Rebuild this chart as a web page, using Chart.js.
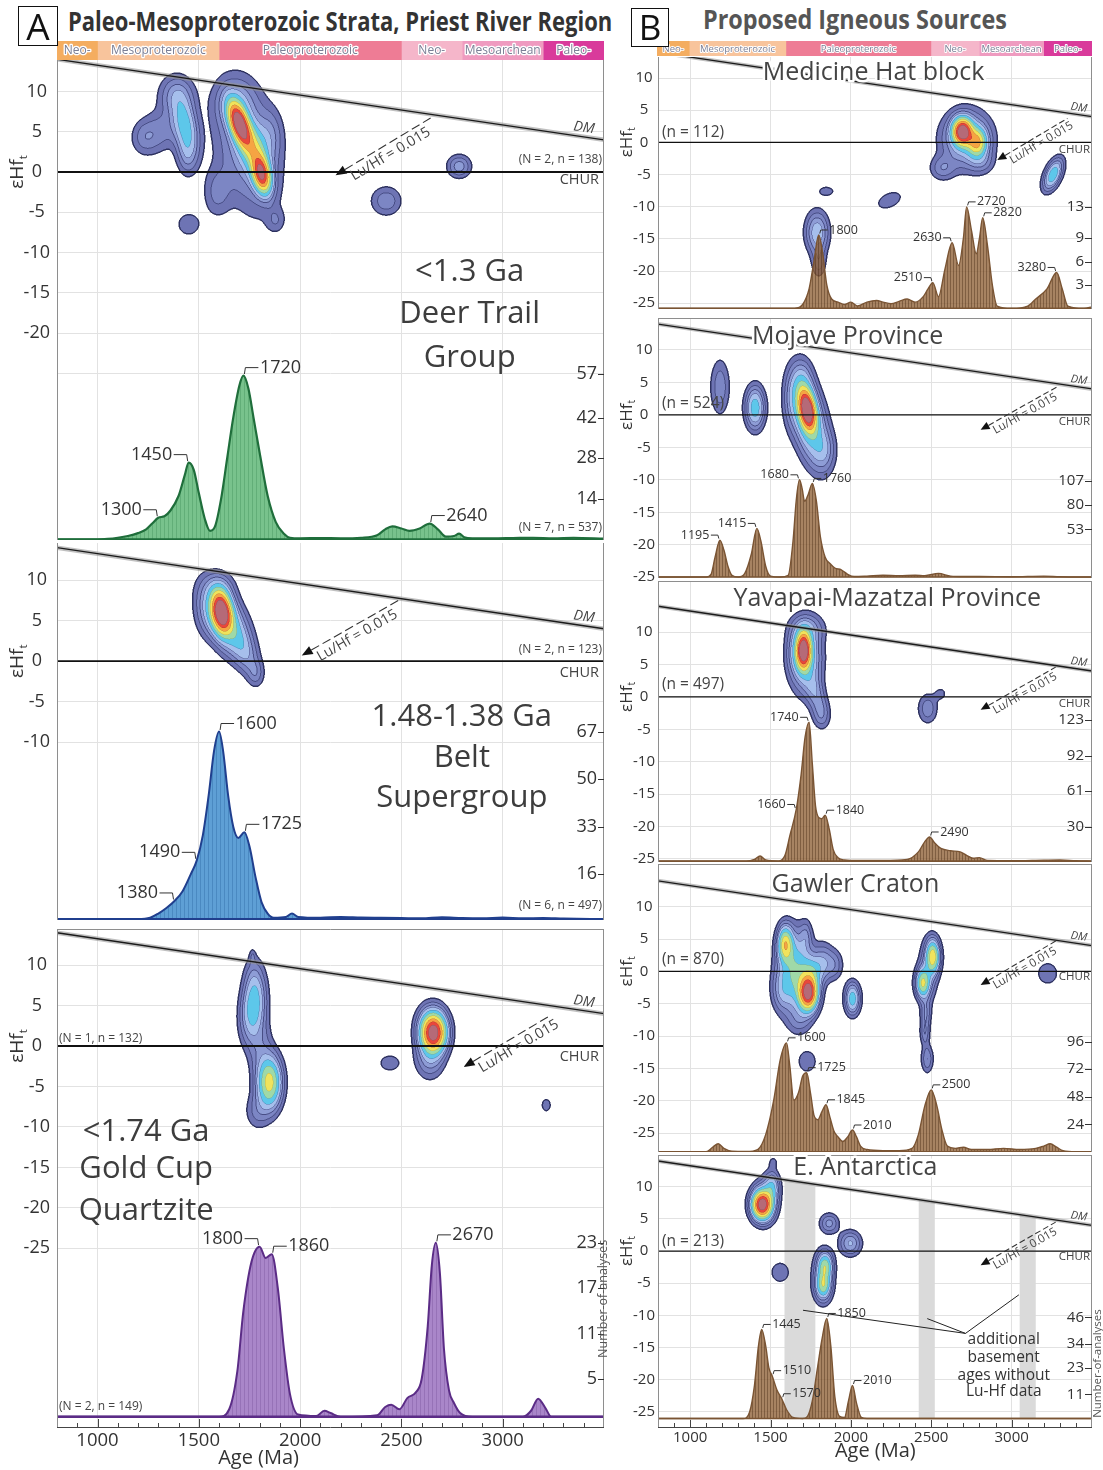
<!DOCTYPE html>
<html><head><meta charset="utf-8"><title>Hf isotope / detrital zircon KDE figure</title>
<script src="https://cdn.jsdelivr.net/npm/chart.js@4.4.1/dist/chart.umd.min.js"></script>
<style>
html,body{margin:0;padding:0;background:#fff;}
#wrap{position:relative;width:1103px;height:1470px;overflow:hidden;background:#fff;font-family:'Open Sans',sans-serif;}
#wrap canvas{position:absolute;}
.lbox{position:absolute;box-sizing:border-box;border:1.6px solid #111;background:#fff;color:#111;text-align:center;font-weight:400;z-index:3;}
.hdr{position:absolute;white-space:nowrap;font-weight:700;transform-origin:0 50%;line-height:1;}
</style></head><body>
<div id="wrap">
 <div class="lbox" style="left:18px;top:6px;width:40px;height:40px;font-size:37px;line-height:37px;">A</div>
 <div class="hdr" id="hA" style="left:68px;top:8px;font-size:26px;color:#333;" data-w="544">Paleo-Mesoproterozoic Strata, Priest River Region</div>
 <div class="lbox" style="left:631px;top:8px;width:38px;height:39px;font-size:35px;line-height:36px;">B</div>
 <div class="hdr" id="hB" style="left:703px;top:6px;font-size:26px;color:#555;" data-w="304">Proposed Igneous Sources</div>
</div>
<script>
// ===================== DATA =====================
const AGE_MIN = 800, AGE_MAX = 3500;
const ageTicks = [1000, 1500, 2000, 2500, 3000];
const minorAgeTicks = [900,1000,1100,1200,1300,1400,1500,1600,1700,1800,1900,2000,2100,2200,2300,2400,2500,2600,2700,2800,2900,3000,3100,3200,3300,3400];

const eraLabels = ['Neo-', 'Mesoproterozoic', 'Paleoproterozoic', 'Neo-', 'Mesoarchean', 'Paleo-'];
const eraStart  = [800, 1000, 1600, 2500, 2800, 3200];
const eraEnd    = [1000, 1600, 2500, 2800, 3200, 3500];
const eraColors = ['#f4ad60', '#f8c49c', '#ee7c95', '#f5b6ca', '#ef9bc0', '#d93a9b'];

const dmAge = [800, 3500];
const dmEps = [14, 4];
const churAge = [800, 3500];
const churEps = [0, 0];

// ---- A1 Deer Trail Group ----
const deerTitle = ['<1.3 Ga', 'Deer Trail', 'Group'];
const deerHfN = '(N = 2, n = 138)';
const deerKdeN = '(N = 7, n = 537)';
const deerCountTicks = [14, 28, 42, 57];
const deerPeaks = [1300, 1450, 1720, 2640];
const deerAges   = [800,1000,1050,1100,1150,1200,1240,1270,1300,1330,1360,1400,1430,1450,1475,1500,1530,1555,1580,1610,1640,1670,1700,1720,1745,1770,1800,1840,1880,1920,1950,2000,2100,2200,2300,2380,2420,2455,2500,2540,2590,2640,2680,2720,2760,2785,2810,2850,2950,3050,3150,3250,3350,3500];
const deerCounts = [0,0,0.2,0.6,1.2,2.2,3.5,5.5,7.5,8.0,10,15,22,26.5,24,16,7,3,4.5,14,28,42,53,56.5,52,42,30,15,6,2,0.6,0.4,0.5,0.4,0.6,1.5,3.5,4.5,3.8,3.0,3.8,5.5,3.5,1.0,1.2,2.0,0.8,0.4,0.4,0.5,0.6,0.4,0.6,0.3];
// blobs: [age, epsHf, sdAge, sdEps, weight, rho]
const deerBlobs = [
 [1430,6.0,40,2.2,0.25,-0.3],[1390,9.5,55,1.6,0.12,0],[1445,2.5,35,1.8,0.12,0],[1300,5.0,70,1.8,0.08,0.2],[1230,4.3,40,1.3,0.05,0],
 [1700,6.0,35,1.7,1.0,-0.5],[1810,-0.3,30,1.5,0.85,-0.3],[1765,3.0,45,2.0,0.35,-0.4],[1740,3.0,100,5.0,0.14,-0.3],
 [1680,8.5,60,1.8,0.12,0],[1590,-2.5,45,2.0,0.07,0],[1880,-6.0,30,1.0,0.05,0],[1850,4.5,40,2.0,0.08,0],
 [1450,-6.5,48,1.2,0.05,0],[2425,-3.6,50,1.2,0.09,0],[2785,0.7,37,0.9,0.13,0]
];

// ---- A2 Belt Supergroup ----
const beltTitle = ['1.48-1.38 Ga', 'Belt', 'Supergroup'];
const beltHfN = '(N = 2, n = 123)';
const beltKdeN = '(N = 6, n = 497)';
const beltCountTicks = [16, 33, 50, 67];
const beltPeaks = [1380, 1490, 1600, 1725];
const beltAges   = [800,1200,1260,1300,1340,1380,1420,1460,1490,1520,1550,1575,1600,1620,1645,1670,1695,1725,1750,1780,1810,1840,1870,1930,1960,1990,2100,2200,2300,2400,2500,2600,2700,2800,2900,3000,3100,3200,3300,3500];
const beltCounts = [0,0,0.5,2,4,6.5,10,16,21,30,45,60,67,60,44,33,29,31,26,15,6,2,0.5,0.8,2,0.8,0.5,0.8,0.6,0.5,0.4,0.3,0.7,0.4,0.3,0.6,0.3,0.4,0.2,0];
const beltBlobs = [
 [1612,6.1,32,1.6,1.0,-0.2],[1630,5.0,70,2.6,0.3,-0.5],[1720,1.5,50,2.2,0.12,-0.6],
 [1780,-1.5,25,1.0,0.06,0],[1600,9.0,50,1.3,0.08,0],[1540,6.0,40,2.0,0.06,0]
];

// ---- A3 Gold Cup Quartzite ----
const goldTitle = ['<1.74 Ga', 'Gold Cup', 'Quartzite'];
const goldHfN = '(N = 1, n = 132)';
const goldKdeN = '(N = 2, n = 149)';
const goldCountTicks = [5, 11, 17, 23];
const goldPeaks = [1800, 1860, 2670];
const goldAges   = [800,1600,1650,1690,1720,1760,1800,1830,1860,1890,1920,1950,1990,2080,2120,2150,2200,2380,2420,2450,2490,2530,2570,2600,2630,2650,2670,2690,2710,2735,2760,2790,2850,3100,3140,3175,3210,3240,3500];
const goldCounts = [0,0,1,6,14,20.5,22.5,21.0,21.5,17,9,3,0.3,0.1,0.8,0.5,0,0.2,1.3,1.6,1.0,2.5,3.2,5,12,20,23,19,9,3.5,1.8,0.5,0,0,0.8,2.4,1.2,0,0];
const goldBlobs = [
 [1768,4.7,38,2.4,0.28,0.2],[1848,-4.5,38,2.0,0.5,0],[1800,0,40,2.5,0.08,0],[1770,8,32,2,0.08,0],
 [1790,-8,40,1.5,0.07,0],[1765,11,10,0.6,0.05,0],
 [2658,1.6,40,1.5,1.0,0],[2640,-1.5,45,1.6,0.12,0],[2650,3.0,45,1.5,0.10,0],
 [2443,-2.1,44,0.86,0.05,0],[3215,-7.3,20,0.7,0.05,0]
];

// ---- B1 Medicine Hat block ----
const medhatTitle = 'Medicine Hat block';
const medhatN = '(n = 112)';
const medhatCountTicks = [3, 6, 9, 13];
const medhatPeaks = [1800, 2510, 2630, 2720, 2820, 3280];
const medhatAges   = [800,1650,1700,1740,1770,1800,1825,1850,1880,1920,1960,2000,2040,2100,2160,2200,2250,2300,2350,2400,2450,2480,2510,2545,2585,2630,2670,2700,2720,2750,2780,2800,2820,2850,2880,2910,3000,3100,3150,3220,3280,3315,3350,3450,3500];
const medhatCounts = [0,0,0.5,2.5,6,9.4,7,3,1.2,0.8,0.5,0.8,0.3,0.8,1,0.8,0.6,0.9,1.2,0.8,1.5,2.5,3.3,1.5,5,8.4,5.5,9,13,10,7,9,11.6,8,3,0.3,0,0.3,1.2,2.5,4.6,2.5,0.3,0,0.2];
const medhatBlobs = [
 [2694,1.7,38,1.3,1.0,0],[2785,0,38,1.4,0.5,0],[2720,0.5,95,2.7,0.22,0],[2570,-4.0,50,1.2,0.09,0],[2810,-3.0,50,1.2,0.07,0],
 [3258,-5.0,38,1.5,0.3,0.5],[1847,-7.6,45,0.7,0.045,0],[2240,-9.0,67,1.2,0.05,0.4],
 [1790,-14.0,45,2.0,0.2,0],[1800,-18.5,30,1.6,0.08,0]
];

// ---- B2 Mojave Province ----
const mojaveTitle = 'Mojave Province';
const mojaveN = '(n = 524)';
const mojaveCountTicks = [53, 80, 107];
const mojavePeaks = [1195, 1415, 1680, 1760];
const mojaveAges   = [800,1100,1130,1155,1185,1210,1235,1260,1300,1340,1380,1415,1440,1470,1500,1560,1610,1640,1660,1680,1697,1712,1735,1760,1785,1810,1840,1870,1900,1940,1980,2020,2100,2200,2300,2400,2460,2545,2620,2700,2800,3000,3200,3300,3500];
const mojaveCounts = [0,0,3,22,41,30,12,2,0,4,25,54,40,12,1,0,2,40,85,108,98,84,92,104,85,45,22,15,10,8,3,0.5,1,2,1.5,2,1.5,4,1,0.5,0.5,0.3,1,0.3,0];
const mojaveBlobs = [
 [1186,4.3,40,2.8,0.09,0],[1404,1.1,38,2.0,0.28,0],
 [1728,0.8,35,2.0,1.0,-0.3],[1740,-1.0,70,4.0,0.3,-0.4],[1690,5.0,45,2.2,0.15,0],[1830,-5.5,45,2.0,0.10,0],[1630,2.0,35,2.8,0.07,0]
];

// ---- B3 Yavapai-Mazatzal Province ----
const yavapaiTitle = 'Yavapai-Mazatzal Province';
const yavapaiN = '(n = 497)';
const yavapaiCountTicks = [30, 61, 92, 123];
const yavapaiPeaks = [1660, 1740, 1840, 2490];
const yavapaiAges   = [800,1350,1400,1435,1470,1550,1590,1620,1660,1690,1715,1740,1760,1780,1800,1820,1840,1865,1890,1920,1960,2050,2200,2350,2420,2460,2490,2520,2560,2620,2680,2720,2760,2800,2850,3000,3200,3300,3400,3500];
const yavapaiCounts = [0,0,1.5,4.4,1,0,5,22,45,75,108,121,85,48,38,37,40,28,10,3,1,0.5,0.5,1.5,8,17,21,16,11,9,8,5,2.5,3,0.5,0.3,0.8,1,0.3,0];
const yavapaiBlobs = [
 [1705,7.2,30,1.8,1.0,0],[1720,6.0,60,3.2,0.25,0],[1780,0.5,45,2.4,0.12,-0.5],[1815,-2.8,35,1.4,0.07,0],[1730,10.5,65,1.4,0.10,0],[1640,7.0,35,2.5,0.06,0],
 [2478,-1.8,40,1.5,0.09,0],[2560,0.5,30,0.8,0.04,0]
];

// ---- B4 Gawler Craton ----
const gawlerTitle = 'Gawler Craton';
const gawlerN = '(n = 870)';
const gawlerCountTicks = [24, 48, 72, 96];
const gawlerPeaks = [1600, 1725, 1845, 2010, 2500];
const gawlerAges   = [800,1100,1140,1175,1210,1260,1350,1420,1470,1520,1560,1600,1620,1645,1675,1700,1725,1750,1770,1795,1820,1845,1870,1895,1920,1950,1980,2010,2035,2060,2100,2200,2300,2380,2420,2460,2500,2535,2565,2600,2650,2700,2750,2850,2950,3050,3150,3200,3240,3280,3320,3400,3500];
const gawlerCounts = [0,0,4,7,3,0.5,0.3,2,15,45,80,95,75,45,52,66,69,50,32,28,35,41,30,18,13,9,13,19,13,5,2,1,1,3,15,40,54,40,20,5,3,4,2,2,3,2,3,5,7,4,1,0,0];
const gawlerBlobs = [
 [1735,-3.3,38,1.7,1.0,0],[1592,4.2,30,1.7,0.5,0],[1650,0,65,3.6,0.32,0],[1760,0,45,1.6,0.2,0],[1720,5.5,25,1.5,0.08,0],
 [1830,1.5,40,1.8,0.12,0],[1900,1.0,35,1.5,0.08,0],[1680,-7.5,50,1.5,0.07,0],[1570,-3.0,40,2.0,0.10,0],
 [2010,-4.2,30,1.5,0.28,0],[1728,-13.9,50,1.5,0.05,0],
 [2510,2.3,28,1.6,0.5,0],[2447,-1.8,28,1.4,0.42,0],[2465,-6.5,22,1.5,0.10,0],[2460,-9.5,20,1.2,0.09,0],[2475,-13.5,25,1.4,0.10,0],[2480,0,40,3.0,0.10,0],
 [3224,-0.3,56,1.5,0.05,0]
];

// ---- B5 E. Antarctica ----
const antTitle = 'E. Antarctica';
const antN = '(n = 213)';
const antCountTicks = [11, 23, 34, 46];
const antPeaks = [1445, 1510, 1570, 1850, 2010];
const antAges   = [800,1330,1370,1400,1425,1445,1470,1490,1510,1540,1570,1600,1640,1700,1730,1760,1790,1820,1850,1875,1900,1930,1960,1985,2010,2035,2065,2100,3500];
const antCounts = [0,0,3,15,33,40.5,33,23,19.5,13,9,4,0.5,0,1,8,22,36,45.5,33,10,1,0.5,8,15,7,0.5,0,0];
const antBlobs = [
 [1448,7.2,40,1.4,1.0,0],[1510,10.0,30,1.4,0.2,0],[1470,8.0,50,2.2,0.1,0],[1517,13.8,22,0.7,0.04,0],
 [1865,4.3,38,1.0,0.12,0],[1996,1.2,43,1.2,0.16,0],[1560,-3.3,51,1.4,0.05,0],
 [1840,-2.3,30,1.3,0.33,0],[1828,-5.3,30,1.3,0.33,0],[1825,-4.0,42,2.5,0.12,0]
];
const antBandStart = [1587, 2422, 3050];
const antBandEnd   = [1779, 2522, 3150];
const antNote = ['additional', 'basement', 'ages without', 'Lu-Hf data'];

// ===================== STYLE =====================
Chart.defaults.font.family = "'Open Sans', sans-serif";
Chart.defaults.color = '#333';

const T_LEVELS = [0.03,0.06,0.10,0.15,0.22,0.32,0.44,0.58,0.74,0.9];
const LEVEL_RGB = [[110,116,180],[124,134,196],[142,157,214],[166,191,236],[93,199,234],[159,217,168],[240,227,92],[245,164,67],[232,71,59],[181,106,120]];
function edgeRGB(L){
  if (L <= 0) return [46,50,96];
  if (L <= 3) return [72,78,134];
  if (L === 4) return [76,132,180];
  const c = LEVEL_RGB[L]; return [c[0]*0.82, c[1]*0.82, c[2]*0.82];
}
const THEMES = {
  green:  {fill:'#78c28c', stripe:'#62ae78', line:'#1f6e3b', w:2.2, base:2.4, period:4},
  blue:   {fill:'#5e9fd5', stripe:'#4a89c1', line:'#203f8e', w:2.0, base:2.2, period:4},
  purple: {fill:'#a986c9', stripe:'#9672b7', line:'#5b2c86', w:2.0, base:2.4, period:4},
  brown:  {fill:'rgba(142,96,54,0.78)', stripe:'rgba(105,66,32,0.85)', line:'#7a5433', w:1.4, base:1.6, period:3}
};
const FA = {tick:18, cnt:18, cntTL:6, peak:18, peakUp:8, peakLen:15, chur:14.5, churW:1.8, dm:14, dmOff:20, dmUp:9, n:12, big:31,
  arrow:14.5, dash:[9,4], head:11, hw:4.5, along:2, perp:3, title:19, titleX:18, xTick:18.5, dmHalo:4.5, noa:12.5};
const FB = {tick:15, cnt:15, cntTL:7, peak:12.5, peakUp:5, peakLen:9, chur:11.5, churW:1.3, dm:11, dmOff:13, dmUp:7, n:15.5, big:25,
  arrow:11.5, dash:[6,3], head:9, hw:4, along:2, perp:2, title:17, titleX:7, xTick:15, dmHalo:4, noa:11.5};

const panelDefs = [
 {id:'A1', col:'A', left:0, top:60, w:620, areaH:480, axisW:57, padR:16, xAxisH:0, topLine:false,
  eps:[-45.71,13.91], cnt:[-0.17,165.3], epsTicks:[10,5,0,-5,-10,-15,-20,-25], epsHide:[-25], cntTicks:deerCountTicks,
  ages:deerAges, counts:deerCounts, peaks:deerPeaks, sides:'LLRR', blobs:deerBlobs, theme:'green',
  big:{lines:deerTitle, age:2837, eps:[-12.5,-17.7,-23.1]}, nTop:{text:deerHfN, eps:1.5, align:'right'}, chur:-1.0,
  nKde:{text:deerKdeN, cnt:4.0, align:'right'}, arrow:{from:[2644,6.7], to:[2175,-0.4]}},
 {id:'A2', col:'A', left:0, top:543, w:620, areaH:377, axisW:57, padR:16, xAxisH:0, topLine:false,
  eps:[-31.9,14.57], cnt:[-0.3,134.3], epsTicks:[10,5,0,-5,-10], epsHide:[], cntTicks:beltCountTicks,
  ages:beltAges, counts:beltCounts, peaks:beltPeaks, sides:'LLRR', blobs:beltBlobs, theme:'blue',
  big:{lines:beltTitle, age:2798, eps:[-6.9,-11.9,-16.9]}, nTop:{text:beltHfN, eps:1.4, align:'right'}, chur:-1.4,
  nKde:{text:beltKdeN, cnt:5.0, align:'right'}, arrow:{from:[2486,7.5], to:[2008,0.7]}},
 {id:'A3', col:'A', left:0, top:929, w:620, areaH:499, axisW:57, padR:16, xAxisH:41, topLine:true,
  eps:[-47.2,14.46], cnt:[-1.48,64.5], epsTicks:[10,5,0,-5,-10,-15,-20,-25], epsHide:[], cntTicks:goldCountTicks,
  ages:goldAges, counts:goldCounts, peaks:goldPeaks, sides:'LRR', blobs:goldBlobs, theme:'purple',
  big:{lines:goldTitle, age:1240, eps:[-10.6,-15.2,-20.4]}, nTop:{text:goldHfN, eps:0.9, align:'left'}, chur:-1.4,
  nKde:{text:goldKdeN, cnt:1.4, align:'left'}, arrow:{from:[3237,3.8], to:[2807,-2.6]},
  xTitleAge:1795, xTitleDy:30, noa:{dx:-1, cnt:15.6}},
 {id:'B1', col:'B', left:620, top:57, w:483, areaH:252, axisW:38, padR:11, xAxisH:0, topLine:false,
  eps:[-25.9,13.27], cnt:[-0.08,32.2], epsTicks:[10,5,0,-5,-10,-15,-20,-25], epsHide:[], cntTicks:medhatCountTicks,
  ages:medhatAges, counts:medhatCounts, peaks:medhatPeaks, sides:'RLLRRL', blobs:medhatBlobs, theme:'brown',
  title:{text:medhatTitle, age:2141, eps:10.8}, nTop:{text:medhatN, eps:1.6, align:'left'}, chur:-1.2,
  arrow:{from:[3347,3.73], to:[2911,-2.75]}},
 {id:'B2', col:'B', left:620, top:318, w:483, areaH:260, axisW:38, padR:11, xAxisH:0, topLine:true,
  eps:[-25.13,14.93], cnt:[-1.1,287.8], epsTicks:[10,5,0,-5,-10,-15,-20,-25], epsHide:[], cntTicks:mojaveCountTicks,
  ages:mojaveAges, counts:mojaveCounts, peaks:mojavePeaks, sides:'LLLR', blobs:mojaveBlobs, theme:'brown',
  title:{text:mojaveTitle, age:1980, eps:12.05}, nTop:{text:mojaveN, eps:1.7, align:'left'}, chur:-1.05,
  arrow:{from:[3285,4.35], to:[2807,-2.3]}},
 {id:'B3', col:'B', left:620, top:581, w:483, areaH:281, axisW:38, padR:11, xAxisH:0, topLine:true,
  eps:[-25.5,17.9], cnt:[-0.8,244.2], epsTicks:[10,5,0,-5,-10,-15,-20,-25], epsHide:[], cntTicks:yavapaiCountTicks,
  ages:yavapaiAges, counts:yavapaiCounts, peaks:yavapaiPeaks, sides:'LLRR', blobs:yavapaiBlobs, theme:'brown',
  title:{text:yavapaiTitle, age:2226, eps:15.2}, nTop:{text:yavapaiN, eps:1.85, align:'left'}, chur:-1.0,
  arrow:{from:[3274,4.6], to:[2807,-2.0]}},
 {id:'B4', col:'B', left:620, top:864, w:483, areaH:288, axisW:38, padR:11, xAxisH:0, topLine:true,
  eps:[-27.9,16.6], cnt:[-0.17,250.9], epsTicks:[10,5,0,-5,-10,-15,-20,-25], epsHide:[], cntTicks:gawlerCountTicks,
  ages:gawlerAges, counts:gawlerCounts, peaks:gawlerPeaks, sides:'RRRRR', blobs:gawlerBlobs, theme:'brown',
  title:{text:gawlerTitle, age:2028, eps:13.35}, nTop:{text:gawlerN, eps:1.76, align:'left'}, chur:-0.8,
  arrow:{from:[3285,4.85], to:[2807,-2.1]}},
 {id:'B5', col:'B', left:620, top:1155, w:483, areaH:273, axisW:38, padR:11, xAxisH:42, topLine:true,
  eps:[-27.5,14.93], cnt:[-4.3,119.8], epsTicks:[10,5,0,-5,-10,-15,-20,-25], epsHide:[], cntTicks:antCountTicks,
  ages:antAges, counts:antCounts, peaks:antPeaks, sides:'RRRRR', blobs:antBlobs, theme:'brown',
  title:{text:antTitle, age:2090, eps:12.9}, nTop:{text:antN, eps:1.45, align:'left'}, chur:-0.9,
  arrow:{from:[3274,4.5], to:[2807,-2.2]},
  bands:true, note:{lines:antNote, age:2951, eps:[-13.8,-16.5,-19.3,-21.9]},
  leaders:{from:[2713,-12.8], to:[[1702,-9.2],[2475,-10.5],[3045,-6.8]]},
  xTitleAge:2152, xTitleDy:23, noa:{dx:6, cnt:25}}
];

// ===================== HELPERS =====================
const wrap = document.getElementById('wrap');
const EXTRA_BOTTOM = 10; // room so the lowest tick label is not clipped
function makeCanvas(left, top, w, h){
  const c = document.createElement('canvas');
  c.width = w; c.height = h;
  c.style.left = left+'px'; c.style.top = top+'px'; c.style.width = w+'px'; c.style.height = h+'px';
  wrap.appendChild(c); return c;
}
function T(ctx, s, x, y, o){
  o = o || {};
  ctx.save();
  ctx.font = (o.italic?'italic ':'') + (o.bold?'700 ':'400 ') + (o.size||12) + "px 'Open Sans', sans-serif";
  ctx.textAlign = o.align || 'left';
  ctx.textBaseline = o.base || 'middle';
  ctx.translate(x, y);
  if (o.rot) ctx.rotate(o.rot);
  if (o.halo){ ctx.strokeStyle = '#fff'; ctx.lineWidth = o.halo; ctx.lineJoin = 'round'; ctx.strokeText(s,0,0); }
  if (o.stroke){ ctx.strokeStyle = o.stroke; ctx.lineWidth = o.strokeW||2; ctx.lineJoin='round'; ctx.strokeText(s,0,0); }
  ctx.fillStyle = o.color || '#333';
  ctx.fillText(s, 0, 0);
  ctx.restore();
}
function seg(ctx, x1, y1, x2, y2){ ctx.beginPath(); ctx.moveTo(x1,y1); ctx.lineTo(x2,y2); ctx.stroke(); }
function interp(xa, ya, x){
  for (let i=0;i<xa.length-1;i++) if (x>=xa[i] && x<=xa[i+1]){ const t=(x-xa[i])/(xa[i+1]-xa[i]); return ya[i]+t*(ya[i+1]-ya[i]); }
  return ya[ya.length-1];
}
function stripePattern(th){
  const c = document.createElement('canvas'); c.width = th.period; c.height = 8;
  const g = c.getContext('2d');
  g.clearRect(0,0,th.period,8);
  g.fillStyle = th.fill; g.fillRect(1,0,th.period-1,8);
  g.fillStyle = th.stripe; g.fillRect(0,0,1,8);
  return g.createPattern(c, 'repeat');
}

const NB1 = [[1,0],[-1,0],[0,1],[0,-1]];
const NB2 = [[1,0],[-1,0],[0,1],[0,-1],[2,0],[-2,0],[0,2],[0,-2],[1,1],[1,-1],[-1,1],[-1,-1]];
function drawContours(chart, comps){
  const ca = chart.chartArea, xs = chart.scales.x, ys = chart.scales.ye, ctx = chart.ctx;
  const S = 2, x0 = Math.floor(ca.left), y0 = Math.floor(ca.top);
  const W = Math.ceil(ca.right - x0) * S, H = Math.ceil(ca.bottom - y0) * S;
  const A = new Float64Array(W), E = new Float64Array(H);
  for (let i=0;i<W;i++) A[i] = xs.getValueForPixel(x0 + (i+0.5)/S);
  for (let j=0;j<H;j++) E[j] = ys.getValueForPixel(y0 + (j+0.5)/S);
  const nc = comps.length;
  const lev = new Int8Array(W*H);
  for (let j=0;j<H;j++){
    const e = E[j];
    for (let i=0;i<W;i++){
      const a = A[i]; let d = 0;
      for (let k=0;k<nc;k++){
        const c = comps[k];
        const dx = (a-c[0])/c[2]; if (dx>6||dx<-6) continue;
        const dy = (e-c[1])/c[3]; if (dy>6||dy<-6) continue;
        const r = c[5]||0;
        d += c[4]*Math.exp(-0.5*(dx*dx - 2*r*dx*dy + dy*dy)/(1-r*r));
      }
      let L = -1;
      for (let k=0;k<T_LEVELS.length;k++){ if (d >= T_LEVELS[k]) L = k; else break; }
      lev[j*W+i] = L;
    }
  }
  const off = document.createElement('canvas'); off.width = W; off.height = H;
  const octx = off.getContext('2d');
  const img = octx.createImageData(W, H); const px = img.data;
  for (let j=0;j<H;j++){
    for (let i=0;i<W;i++){
      const idx = j*W+i, L = lev[idx];
      let col = null;
      if (L >= 0){
        col = LEVEL_RGB[L];
        const NB = L <= 2 ? NB2 : NB1;
        let lower = false;
        for (let n=0;n<NB.length;n++){
          const ii=i+NB[n][0], jj=j+NB[n][1];
          if (ii<0||jj<0||ii>=W||jj>=H) continue;
          if (lev[jj*W+ii] < L){ lower = true; break; }
        }
        if (lower) col = edgeRGB(L);
      } else {
        for (let n=0;n<NB1.length;n++){
          const ii=i+NB1[n][0], jj=j+NB1[n][1];
          if (ii<0||jj<0||ii>=W||jj>=H) continue;
          if (lev[jj*W+ii] >= 0){ col = edgeRGB(0); break; }
        }
      }
      if (col){ const q = idx*4; px[q]=col[0]; px[q+1]=col[1]; px[q+2]=col[2]; px[q+3]=255; }
    }
  }
  octx.putImageData(img, 0, 0);
  ctx.save();
  ctx.beginPath(); ctx.rect(ca.left, ca.top, ca.right-ca.left, ca.bottom-ca.top); ctx.clip();
  ctx.imageSmoothingEnabled = true; ctx.imageSmoothingQuality = 'high';
  ctx.drawImage(off, x0, y0, W/S, H/S);
  ctx.restore();
}

function makeDeco(p){
  const F = p.col === 'A' ? FA : FB;
  return {
    id: 'deco' + p.id,
    beforeDatasetsDraw(chart){
      const {ctx} = chart; const xs = chart.scales.x, ye = chart.scales.ye, yc = chart.scales.yc;
      if (p.bands){
        ctx.save(); ctx.fillStyle = '#dadada';
        for (let b=0;b<antBandStart.length;b++){
          const a1 = antBandStart[b], a2 = antBandEnd[b];
          ctx.beginPath();
          ctx.moveTo(xs.getPixelForValue(a1), ye.getPixelForValue(interp(dmAge, dmEps, a1)));
          ctx.lineTo(xs.getPixelForValue(a2), ye.getPixelForValue(interp(dmAge, dmEps, a2)));
          ctx.lineTo(xs.getPixelForValue(a2), yc.getPixelForValue(0));
          ctx.lineTo(xs.getPixelForValue(a1), yc.getPixelForValue(0));
          ctx.closePath(); ctx.fill();
        }
        ctx.restore();
      }
      drawContours(chart, p.blobs);
    },
    afterDatasetsDraw(chart){
      const {ctx, chartArea: ca} = chart; const xs = chart.scales.x, ye = chart.scales.ye, yc = chart.scales.yc;
      // frame
      ctx.save(); ctx.strokeStyle = '#8e8e8e'; ctx.lineWidth = 1;
      seg(ctx, ca.left+0.5, ca.top, ca.left+0.5, ca.bottom);
      seg(ctx, ca.right-0.5, ca.top, ca.right-0.5, ca.bottom);
      if (p.topLine) seg(ctx, ca.left, ca.top+0.5, ca.right, ca.top+0.5);
      if (p.xAxisH){
        ctx.strokeStyle = '#444';
        seg(ctx, ca.left, ca.bottom-0.5, ca.right, ca.bottom-0.5);
        for (const a of minorAgeTicks){
          const x = Math.round(xs.getPixelForValue(a))+0.5;
          const len = (a % 500 === 0) ? (p.col==='A'?9:8) : 5;
          seg(ctx, x, ca.bottom, x, ca.bottom-len);
        }
      }
      ctx.restore();
      // count axis ticks (inside right edge)
      ctx.save(); ctx.strokeStyle = '#333'; ctx.lineWidth = 1;
      for (const v of p.cntTicks){
        const y = yc.getPixelForValue(v);
        seg(ctx, ca.right - F.cntTL, Math.round(y)+0.5, ca.right, Math.round(y)+0.5);
        T(ctx, String(v), ca.right - F.cntTL - 1, y, {size:F.cnt, align:'right', color:'#333'});
      }
      ctx.restore();
      // peak labels
      for (let k=0;k<p.peaks.length;k++){
        const label = p.peaks[k];
        let bi = 0;
        for (let i=1;i<p.ages.length;i++) if (Math.abs(p.ages[i]-label) < Math.abs(p.ages[bi]-label)) bi = i;
        const px = xs.getPixelForValue(p.ages[bi]), py = yc.getPixelForValue(p.counts[bi]);
        const d = p.sides[k] === 'L' ? -1 : 1;
        const ly = py - F.peakUp;
        ctx.save(); ctx.strokeStyle = '#333'; ctx.lineWidth = 1;
        ctx.beginPath(); ctx.moveTo(px + d*1, py - 1.5); ctx.lineTo(px + d*2, ly); ctx.lineTo(px + d*F.peakLen, ly); ctx.stroke();
        ctx.restore();
        T(ctx, String(label), px + d*(F.peakLen+1.5), ly, {size:F.peak, align: d<0?'right':'left', color:'#333'});
      }
      // DM label
      const dx1 = xs.getPixelForValue(dmAge[0]), dy1 = ye.getPixelForValue(dmEps[0]);
      const dx2 = xs.getPixelForValue(dmAge[1]), dy2 = ye.getPixelForValue(dmEps[1]);
      const dmAng = Math.atan2(dy2-dy1, dx2-dx1);
      const lx = ca.right - F.dmOff;
      const ly = ye.getPixelForValue(interp(dmAge, dmEps, xs.getValueForPixel(lx))) - F.dmUp;
      T(ctx, 'DM', lx, ly, {italic:true, size:F.dm, align:'center', rot:dmAng, color:'#444'});
      // CHUR
      T(ctx, 'CHUR', ca.right - (p.col==='A'?5:2), ye.getPixelForValue(p.chur), {size:F.chur, align:'right', color:'#444'});
      // n labels
      if (p.nTop){
        const x = p.nTop.align === 'right' ? ca.right - 2 : ca.left + (p.col==='A'?2:4);
        T(ctx, p.nTop.text, x, ye.getPixelForValue(p.nTop.eps), {size:F.n, align:p.nTop.align, color:'#444'});
      }
      if (p.nKde){
        const x = p.nKde.align === 'right' ? ca.right - 2 : ca.left + 2;
        T(ctx, p.nKde.text, x, yc.getPixelForValue(p.nKde.cnt), {size:F.n, align:p.nKde.align, color:'#444'});
      }
      // Lu/Hf arrow
      {
        const a = p.arrow;
        const x1 = xs.getPixelForValue(a.from[0]), y1 = ye.getPixelForValue(a.from[1]);
        const x0 = xs.getPixelForValue(a.to[0]), y0 = ye.getPixelForValue(a.to[1]);
        const ang = Math.atan2(y1-y0, x1-x0), cs = Math.cos(ang), sn = Math.sin(ang);
        ctx.save(); ctx.strokeStyle = '#333'; ctx.lineWidth = 1.1; ctx.setLineDash(F.dash);
        seg(ctx, x0 + cs*F.head, y0 + sn*F.head, x1, y1);
        ctx.setLineDash([]);
        ctx.fillStyle = '#111'; ctx.beginPath(); ctx.moveTo(x0, y0);
        const bx = x0 + cs*F.head, by = y0 + sn*F.head;
        ctx.lineTo(bx - sn*F.hw, by + cs*F.hw); ctx.lineTo(bx + sn*F.hw, by - cs*F.hw); ctx.closePath(); ctx.fill();
        ctx.restore();
        const tx = x0 + cs*(F.head+F.along) - sn*F.perp, ty = y0 + sn*(F.head+F.along) + cs*F.perp;
        T(ctx, 'Lu/Hf = 0.015', tx, ty, {size:F.arrow, align:'left', base:'top', rot:ang, color:'#444'});
      }
      // big titles
      if (p.big){
        const x = xs.getPixelForValue(p.big.age);
        p.big.lines.forEach((s,i)=> T(ctx, s, x, ye.getPixelForValue(p.big.eps[i]), {size:F.big, align:'center', color:'#3d3d3d'}));
      }
      if (p.title){
        T(ctx, p.title.text, xs.getPixelForValue(p.title.age), ye.getPixelForValue(p.title.eps), {size:F.big, align:'center', color:'#444', halo:5});
      }
      // E. Antarctica note
      if (p.note){
        ctx.save(); ctx.strokeStyle = '#222'; ctx.lineWidth = 1;
        const fx = xs.getPixelForValue(p.leaders.from[0]), fy = ye.getPixelForValue(p.leaders.from[1]);
        for (const t of p.leaders.to) seg(ctx, fx, fy, xs.getPixelForValue(t[0]), ye.getPixelForValue(t[1]));
        ctx.restore();
        const x = xs.getPixelForValue(p.note.age);
        p.note.lines.forEach((s,i)=> T(ctx, s, x, ye.getPixelForValue(p.note.eps[i]), {size:15.5, align:'center', color:'#333'}));
      }
      // eHf_t axis title
      {
        const y = ye.getPixelForValue(0);
        ctx.save();
        ctx.translate(F.titleX, y); ctx.rotate(-Math.PI/2);
        ctx.font = "400 " + F.title + "px 'Open Sans', sans-serif";
        const w1 = ctx.measureText('εHf').width;
        ctx.font = "400 " + (F.title*0.6) + "px 'Open Sans', sans-serif";
        const w2 = ctx.measureText('t').width;
        const st = -(w1+w2)/2;
        ctx.fillStyle = '#333'; ctx.textBaseline = 'middle'; ctx.textAlign = 'left';
        ctx.font = "400 " + F.title + "px 'Open Sans', sans-serif";
        ctx.fillText('εHf', st, 0);
        ctx.font = "400 " + (F.title*0.6) + "px 'Open Sans', sans-serif";
        ctx.fillText('t', st + w1, F.title*0.3);
        ctx.restore();
      }
      // bottom axis title + number-of-analyses
      if (p.xAxisH){
        T(ctx, 'Age (Ma)', xs.getPixelForValue(p.xTitleAge), ca.bottom + p.xTitleDy, {size:20, align:'center', color:'#333'});
        T(ctx, 'Number-of-analyses', ca.right + p.noa.dx, yc.getPixelForValue(p.noa.cnt), {size:F.noa, align:'center', rot:-Math.PI/2, color:'#555'});
      }
    }
  };
}

function buildPanel(p){
  const F = p.col === 'A' ? FA : FB;
  const th = THEMES[p.theme];
  const extra = p.xAxisH ? 0 : EXTRA_BOTTOM;
  const cv = makeCanvas(p.left, p.top, p.w, p.areaH + p.xAxisH + extra);
  const pat = stripePattern(th);
  const dmData = dmAge.map((a,i)=>({x:a, y:dmEps[i]}));
  new Chart(cv, {
    type: 'line',
    data: { datasets: [
      {label:'CHUR', data: churAge.map((a,i)=>({x:a, y:churEps[i]})), yAxisID:'ye', borderColor:'#111', borderWidth:F.churW, pointRadius:0, order:0},
      {label:'DM', data: dmData, yAxisID:'ye', borderColor:'#1a1a1a', borderWidth:1.3, pointRadius:0, order:1},
      {label:'DM band', data: dmData, yAxisID:'ye', borderColor:'rgba(150,150,150,0.6)', borderWidth:F.dmHalo, pointRadius:0, order:2},
      {label:'baseline', data:[{x:AGE_MIN, y:0},{x:AGE_MAX, y:0}], yAxisID:'yc', borderColor:th.line, borderWidth:th.base, pointRadius:0, order:3},
      {label:'KDE', data: p.ages.map((a,i)=>({x:a, y:p.counts[i]})), yAxisID:'yc', borderColor:th.line, borderWidth:th.w,
        backgroundColor:pat, fill:'origin', pointRadius:0, cubicInterpolationMode:'monotone', order:4}
    ]},
    options: {
      responsive:false, maintainAspectRatio:false, animation:false, events:[],
      layout:{padding:{left:0, right:p.padR, top:0, bottom:extra}},
      plugins:{legend:{display:false}, tooltip:{enabled:false}},
      scales:{
        x:{type:'linear', min:AGE_MIN, max:AGE_MAX, position:'bottom',
           afterBuildTicks: ax => { ax.ticks = ageTicks.map(v=>({value:v})); },
           grid:{color:'#e2e2e2', drawTicks:false}, border:{display:false},
           ticks:{display: p.xAxisH>0, font:{size:F.xTick}, color:'#333', padding: p.col==='A'?2:1, maxRotation:0,
                  callback: v => String(v)},
           afterFit: ax => { ax.height = p.xAxisH; ax.paddingLeft = 0; ax.paddingRight = 0; }},
        ye:{type:'linear', position:'left', min:p.eps[0], max:p.eps[1],
           afterBuildTicks: ax => { ax.ticks = p.epsTicks.map(v=>({value:v})); },
           grid:{color:'#e2e2e2', drawTicks:false}, border:{display:false},
           ticks:{font:{size:F.tick}, color:'#333', crossAlign:'center', padding: p.col==='A'?7:3,
                  callback: v => p.epsHide.includes(v) ? '' : String(v)},
           afterFit: ax => { ax.width = p.axisW; ax.paddingTop = 0; ax.paddingBottom = 0; }},
        yc:{type:'linear', position:'right', min:p.cnt[0], max:p.cnt[1], display:false,
           afterBuildTicks: ax => { ax.ticks = p.cntTicks.map(v=>({value:v})); }}
      }
    },
    plugins:[makeDeco(p)]
  });
}

function buildTimescale(left, top, w, h, padL, padR, fs, sw){
  const cv = makeCanvas(left, top, w, h);
  new Chart(cv, {
    type:'bar',
    data:{ labels:['era'], datasets: eraLabels.map((n,i)=>({label:n, data:[[eraStart[i], eraEnd[i]]], backgroundColor:eraColors[i],
      borderWidth:0, barPercentage:1, categoryPercentage:1, grouped:false})) },
    options:{ indexAxis:'y', responsive:false, maintainAspectRatio:false, animation:false, events:[],
      layout:{padding:{left:padL, right:padR, top:0, bottom:0}},
      plugins:{legend:{display:false}, tooltip:{enabled:false}},
      scales:{ x:{type:'linear', min:AGE_MIN, max:AGE_MAX, display:false}, y:{display:false} } },
    plugins:[{ id:'eraLabels', afterDatasetsDraw(chart){
      chart.data.datasets.forEach((ds,i)=>{
        const el = chart.getDatasetMeta(i).data[0];
        T(chart.ctx, ds.label, (el.x+el.base)/2, el.y+0.5, {size:fs, align:'center', color:'#7b7f96', stroke:'#ffffff', strokeW:sw});
      });
    }}]
  });
}

panelDefs.forEach(buildPanel);
buildTimescale(0, 41, 620, 19, 57, 16, 12, 2.6);
buildTimescale(620, 41, 483, 15, 37, 11, 9.5, 2.0);

function fitHeaders(){
  document.querySelectorAll('.hdr').forEach(el=>{
    el.style.transform = 'none';
    const target = +el.dataset.w, wNow = el.offsetWidth;
    if (wNow > 0) el.style.transform = 'scaleX(' + (target / wNow) + ')';
  });
}
fitHeaders();
if (document.fonts && document.fonts.ready) document.fonts.ready.then(fitHeaders);
</script>
</body></html>
